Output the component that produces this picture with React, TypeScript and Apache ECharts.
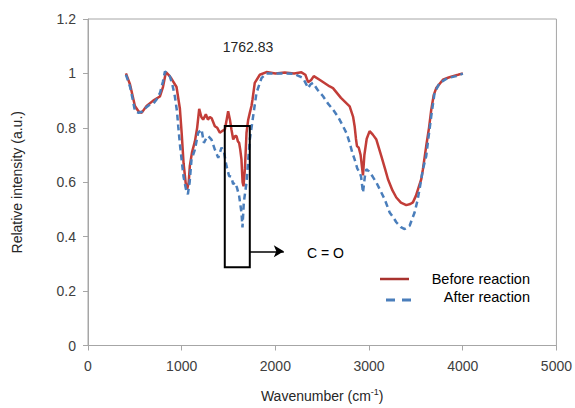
import React, { useEffect, useRef } from "react";
import * as echarts from "echarts";

const xTicks = [0, 1000, 2000, 3000, 4000, 5000];
const yTicks = [0, 0.2, 0.4, 0.6, 0.8, 1, 1.2];

const beforeWn = [405,448,501,540,572,625,696,767,800,832,860,892,945,981,1000,1020,1045,1059,1075,1087,1110,1141,1165,1187,1210,1229,1258,1280,1300,1320,1354,1380,1407,1440,1461,1480,1496,1515,1531,1550,1570,1585,1600,1613,1625,1638,1650,1660,1675,1692,1710,1727,1745,1756,1780,1834,1905,2000,2100,2200,2278,2320,2349,2380,2410,2480,2580,2615,2700,2793,2830,2846,2860,2871,2890,2910,2935,2950,2975,3006,3040,3078,3131,3170,3202,3250,3291,3340,3397,3440,3468,3500,3522,3557,3575,3610,3640,3664,3690,3717,3788,3850,3895,3950,4001];
const beforeVal = [1.0,0.96,0.88,0.86,0.855,0.88,0.9,0.915,0.95,1.005,0.995,0.98,0.95,0.87,0.78,0.67,0.59,0.575,0.6,0.66,0.71,0.75,0.8,0.87,0.84,0.83,0.85,0.83,0.84,0.835,0.806,0.8,0.782,0.79,0.794,0.83,0.861,0.83,0.794,0.757,0.77,0.77,0.75,0.745,0.72,0.684,0.6,0.585,0.65,0.782,0.83,0.855,0.88,0.904,0.965,0.995,1.005,1.0,1.003,1.0,1.004,0.995,0.968,0.975,0.99,0.975,0.952,0.946,0.91,0.879,0.84,0.806,0.76,0.733,0.727,0.7,0.625,0.7,0.76,0.788,0.775,0.757,0.696,0.65,0.611,0.57,0.544,0.525,0.516,0.52,0.526,0.55,0.574,0.611,0.648,0.733,0.8,0.867,0.92,0.946,0.977,0.985,0.99,0.995,1.0];

const afterWn = [405,448,480,501,540,580,620,661,700,732,770,800,821,845,874,900,927,950,963,981,999,1020,1045,1066,1085,1105,1141,1176,1212,1237,1260,1283,1318,1354,1390,1425,1450,1478,1506,1530,1549,1570,1590,1613,1638,1649,1663,1692,1710,1727,1763,1798,1852,1905,2000,2100,2200,2295,2330,2349,2375,2402,2450,2509,2560,2615,2670,2722,2760,2793,2820,2846,2875,2900,2915,2935,2955,2971,3000,3040,3078,3120,3166,3220,3260,3291,3340,3380,3433,3486,3515,3539,3575,3610,3640,3664,3699,3753,3841,3930,4001];
const afterVal = [0.995,0.952,0.9,0.861,0.855,0.86,0.875,0.886,0.89,0.904,0.93,0.97,1.007,1.0,0.989,0.96,0.916,0.86,0.806,0.74,0.684,0.62,0.575,0.556,0.6,0.684,0.72,0.782,0.794,0.745,0.76,0.77,0.757,0.72,0.69,0.727,0.714,0.66,0.623,0.62,0.593,0.599,0.58,0.55,0.489,0.434,0.526,0.599,0.68,0.757,0.843,0.928,0.983,1.0,1.0,1.0,0.998,0.983,0.96,0.946,0.96,0.965,0.94,0.916,0.89,0.867,0.84,0.806,0.78,0.745,0.71,0.684,0.65,0.636,0.62,0.562,0.62,0.648,0.64,0.62,0.599,0.57,0.538,0.489,0.47,0.453,0.435,0.428,0.44,0.489,0.53,0.574,0.648,0.696,0.78,0.843,0.928,0.965,0.983,0.99,0.999];

const boxX = [1460, 1727];
const boxY = [0.807, 0.288];
const arrowX = [1727, 2090];
const arrowY = 0.346;

const RED = "#c23d38";
const BLUE = "#4a7ebb";
const FONT = "Liberation Sans";

export default function App() {
  const ref = useRef<HTMLDivElement>(null);
  useEffect(() => {
    document.body.style.margin = "0";
    if (!ref.current) return;
    const chart = echarts.init(ref.current, null, { renderer: "svg" });
    const before = beforeWn.map((w, i) => [w, beforeVal[i]]);
    const after = afterWn.map((w, i) => [w, afterVal[i]]);
    chart.setOption({
      animation: false,
      backgroundColor: "#ffffff",
      grid: {
        left: 88,
        right: 18,
        top: 19,
        bottom: 61,
        show: true,
        borderColor: "#a6a6a6",
        borderWidth: 1,
      },
      xAxis: {
        type: "value",
        min: xTicks[0],
        max: xTicks[xTicks.length - 1],
        interval: 1000,
        name: "Wavenumber (cm{sup|-1})",
        nameLocation: "middle",
        nameGap: 42,
        nameTextStyle: {
          fontFamily: FONT,
          fontSize: 14,
          color: "#262626",
          rich: { sup: { fontSize: 9, verticalAlign: "top", padding: [0, 0, 8, 0], fontFamily: FONT, color: "#262626" } },
        },
        axisLine: { lineStyle: { color: "#a6a6a6", width: 1 } },
        axisTick: { show: true, inside: false, length: 5, lineStyle: { color: "#a6a6a6" } },
        axisLabel: { fontFamily: FONT, fontSize: 14, color: "#404040", margin: 13, formatter: (v: number) => String(v) },
        splitLine: { show: false },
      },
      yAxis: {
        type: "value",
        min: yTicks[0],
        max: yTicks[yTicks.length - 1],
        interval: 0.2,
        name: "Relative intensity (a.u.)",
        nameLocation: "middle",
        nameGap: 64,
        nameTextStyle: { fontFamily: FONT, fontSize: 14, color: "#262626" },
        axisLine: { show: true, lineStyle: { color: "#a6a6a6", width: 1 } },
        axisTick: { show: true, inside: false, length: 5, lineStyle: { color: "#a6a6a6" } },
        axisLabel: { fontFamily: FONT, fontSize: 14, color: "#404040", margin: 12, formatter: (v: number) => String(Math.round(v * 10) / 10) },
        splitLine: { show: false },
      },
      series: [
        {
          name: "Before reaction",
          type: "line",
          data: before,
          showSymbol: false,
          symbol: "none",
          smooth: false,
          lineStyle: { color: RED, width: 2.5 },
          itemStyle: { color: RED },
          silent: true,
          z: 2,
          markArea: {
            silent: true,
            itemStyle: { color: "rgba(0,0,0,0)", borderColor: "#000", borderWidth: 2 },
            label: { show: false },
            data: [[{ coord: [boxX[0], boxY[0]] }, { coord: [boxX[1], boxY[1]] }]],
            z: 5,
          },
          markLine: {
            silent: true,
            symbol: ["none", "arrow"],
            symbolSize: [9, 10],
            label: { show: false },
            lineStyle: { color: "#000", width: 1.5, type: "solid" },
            data: [[{ coord: [arrowX[0], arrowY] }, { coord: [arrowX[1], arrowY] }]],
          },
        },
        {
          name: "After reaction",
          type: "line",
          data: after,
          showSymbol: false,
          symbol: "none",
          lineStyle: { color: BLUE, width: 2.5, type: [6, 4] },
          itemStyle: { color: BLUE },
          silent: true,
          z: 3,
        },
      ],
      graphic: [
        {
          type: "text",
          x: 248,
          y: 47,
          style: { text: "1762.83", fontFamily: FONT, fontSize: 14, fill: "#262626", align: "center", verticalAlign: "middle" },
        },
        {
          type: "text",
          x: 307,
          y: 253,
          style: { text: "C = O", fontFamily: FONT, fontSize: 14, fill: "#000", align: "left", verticalAlign: "middle" },
        },
        {
          type: "line",
          shape: { x1: 380, y1: 279, x2: 409, y2: 279 },
          style: { stroke: "#a8322e", lineWidth: 2.5 },
        },
        {
          type: "text",
          x: 530,
          y: 279,
          style: { text: "Before reaction", fontFamily: FONT, fontSize: 14.5, fill: "#000", align: "right", verticalAlign: "middle" },
        },
        {
          type: "line",
          shape: { x1: 386, y1: 300, x2: 416, y2: 300 },
          style: { stroke: BLUE, lineWidth: 3, lineDash: [9, 7] },
        },
        {
          type: "text",
          x: 530,
          y: 297,
          style: { text: "After reaction", fontFamily: FONT, fontSize: 14.5, fill: "#000", align: "right", verticalAlign: "middle" },
        },
      ],
    });
    return () => chart.dispose();
  }, []);
  return <div ref={ref} style={{ width: 575, height: 408 }} />;
}
